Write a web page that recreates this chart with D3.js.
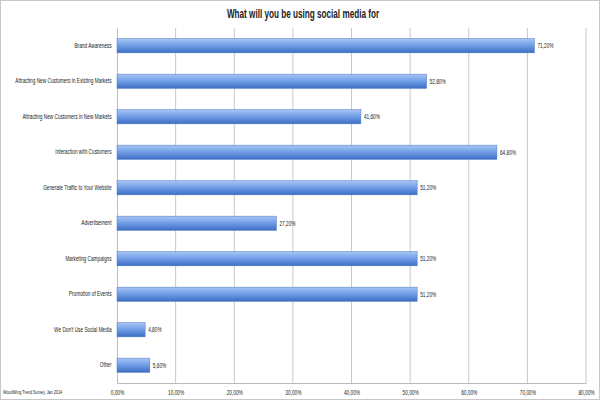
<!DOCTYPE html>
<html>
<head>
<meta charset="utf-8">
<script src="https://cdn.jsdelivr.net/npm/d3@7"></script>
<style>
body { margin: 0; background: #fff; }
svg { display: block; }
text { font-family: "Liberation Sans", Arial, sans-serif; fill: #222; }
</style>
</head>
<body>
<svg id="chart" width="600" height="400"></svg>
<script>
const title = "What will you be using social media for";
const source = "WoodWing Trend Survey, Jan 2014";
const categories = [
  "Brand Awareness",
  "Attracting New Customers in Existing Markets",
  "Attracting New Customers in New Markets",
  "Interaction with Customers",
  "Generate Traffic to Your Website",
  "Advertisement",
  "Marketing Campaigns",
  "Promotion of Events",
  "We Don't Use Social Media",
  "Other"
];
const values = [71.2, 52.8, 41.6, 64.8, 51.2, 27.2, 51.2, 51.2, 4.8, 5.6];
const ticks = [0, 10, 20, 30, 40, 50, 60, 70, 80];

const fmt = v => v.toFixed(2).replace(".", ",") + "%";
const SX = 0.68; // horizontal condensing to imitate a narrow typeface

const svg = d3.select("#chart");
const margin = { left: 117, right: 14, top: 28, bottom: 17 };
const W = 600, H = 400;

// outer frame
svg.append("rect").attr("x", 0.5).attr("y", 0.5).attr("width", W - 1).attr("height", H - 1)
  .attr("fill", "none").attr("stroke", "#c8c8c8");

const x = d3.scaleLinear().domain([0, 80]).range([margin.left, W - margin.right]);
const y = d3.scaleBand().domain(categories).range([margin.top, H - margin.bottom]).paddingInner(0.6).paddingOuter(0.3);

const defs = svg.append("defs");
const grad = defs.append("linearGradient").attr("id", "barGrad").attr("x1", 0).attr("y1", 0).attr("x2", 0).attr("y2", 1);
grad.append("stop").attr("offset", "0%").attr("stop-color", "#a9c6f3");
grad.append("stop").attr("offset", "45%").attr("stop-color", "#74a0e8");
grad.append("stop").attr("offset", "100%").attr("stop-color", "#3d6ec4");

// title
svg.append("g").attr("transform", "translate(303,18)")
  .append("text").attr("text-anchor", "middle").attr("transform", `scale(${SX},1)`)
  .style("font-size", "12px").style("font-weight", "bold")
  .text(title);

// gridlines
svg.append("g").selectAll("line").data(ticks.filter(t => t > 0)).join("line")
  .attr("x1", d => x(d)).attr("x2", d => x(d))
  .attr("y1", margin.top).attr("y2", H - margin.bottom)
  .attr("stroke", "#c8c8c8").attr("stroke-width", 1);

// x axis
const xAxis = d3.axisBottom(x).tickValues(ticks).tickSize(0).tickPadding(7).tickFormat(fmt);
const gx = svg.append("g").attr("transform", `translate(0,${H - margin.bottom})`).call(xAxis);
gx.select(".domain").attr("stroke", "#bbb");
gx.selectAll("text").style("font-size", "7px").style("font-family", "'Liberation Sans', Arial, sans-serif")
  .attr("fill", "#222").attr("transform", `scale(${SX},1)`);

// y axis
const yAxis = d3.axisLeft(y).tickSize(0).tickPadding(8);
const gy = svg.append("g").attr("transform", `translate(${margin.left},0)`).call(yAxis);
gy.select(".domain").attr("stroke", "#bbb");
gy.selectAll("text").style("font-size", "7px").style("font-family", "'Liberation Sans', Arial, sans-serif")
  .attr("fill", "#222").attr("transform", `scale(${SX},1)`);

// bars
svg.append("g").selectAll("rect").data(values).join("rect")
  .attr("x", x(0)).attr("y", (d, i) => y(categories[i]))
  .attr("width", d => x(d) - x(0)).attr("height", y.bandwidth())
  .attr("fill", "url(#barGrad)").attr("stroke", "#4a78c6").attr("stroke-width", 0.5);

// value labels
svg.append("g").selectAll("g").data(values).join("g")
  .attr("transform", (d, i) => `translate(${x(d) + 3},${y(categories[i]) + y.bandwidth() / 2})`)
  .append("text").attr("dy", "0.35em").style("font-size", "7px")
  .attr("transform", `scale(${SX},1)`)
  .text(fmt);

// source
svg.append("g").attr("transform", "translate(3,394)")
  .append("text").style("font-size", "6px").attr("transform", "scale(0.63,1)")
  .text(source);
</script>
</body>
</html>
